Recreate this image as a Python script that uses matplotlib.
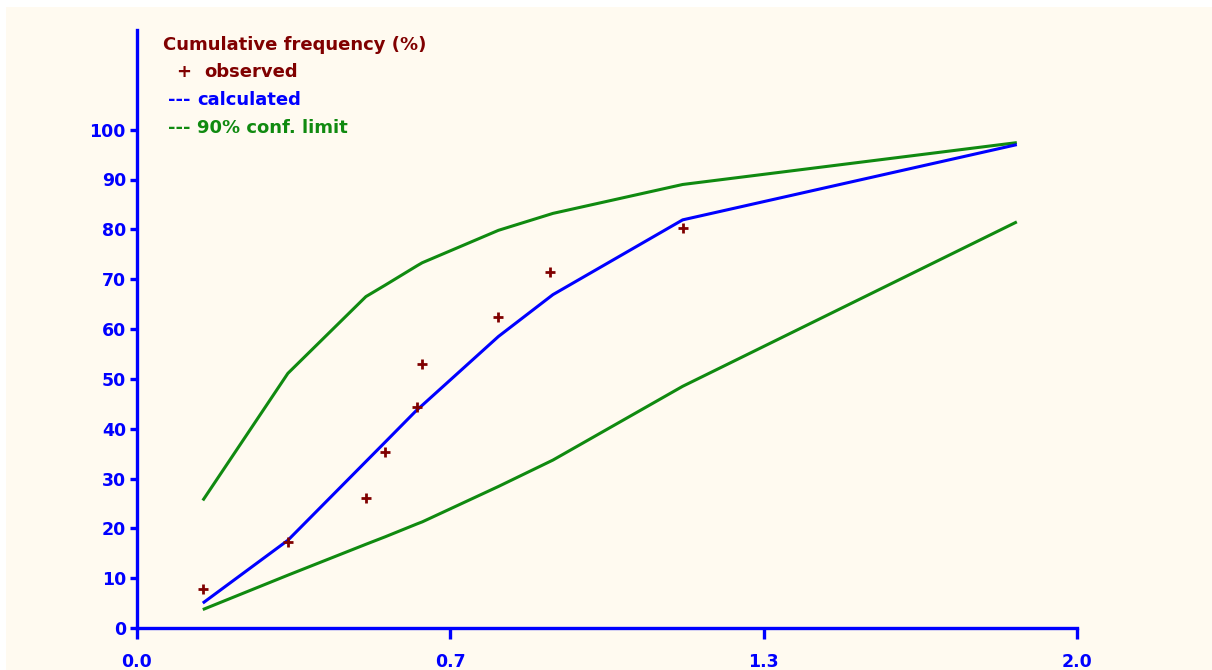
import numpy as np
import matplotlib
matplotlib.use("Agg")
import matplotlib.pyplot as plt
from matplotlib.patches import Rectangle

# ---- data ----
obs_x = [0.140, 0.321, 0.487, 0.528, 0.596, 0.607, 0.769, 0.879, 1.161]
obs_y = [7.8, 17.3, 26.1, 35.3, 44.4, 53.0, 62.5, 71.4, 80.3]

curve_x = [0.140, 0.321, 0.487, 0.528, 0.596, 0.607, 0.769, 0.885, 1.161, 1.872]
calc_y = [5.0, 17.6, 33.4, 37.3, 43.8, 44.7, 58.5, 66.9, 81.9, 97.0]
upper_y = [25.6, 51.1, 66.5, 68.8, 72.7, 73.3, 79.8, 83.2, 89.0, 97.4]
lower_y = [3.7, 10.6, 16.8, 18.3, 20.9, 21.3, 28.4, 33.7, 48.5, 81.5]

ytick_vals = [0, 10, 20, 30, 40, 50, 60, 70, 80, 90, 100]
xtick_labels = ["0.0", "0.7", "1.3", "2.0"]
xtick_vals = list(np.linspace(0, 2, len(xtick_labels)))

legend_title = "Cumulative frequency (%)"
legend_marks = ["+", "---", "---"]
legend_items = ["observed", "calculated", "90% conf. limit"]

# ---- style ----
BG = "#fffaf0"
BLUE = "#0000ff"
GREEN = "#108a10"
RED = "#800000"

W, H = 1212, 670
fig = plt.figure(figsize=(W / 100, H / 100), dpi=100, facecolor="white")
fig.patches.append(Rectangle((6 / W, 0), 1 - 6 / W, 1 - 7 / H, transform=fig.transFigure,
                             facecolor=BG, edgecolor="none", zorder=-10))

ax = fig.add_axes([137 / W, 42 / H, (1077 - 137) / W, (628 - 30) / H])
ax.set_facecolor("none")
ax.set_xlim(0, 2)
ax.set_ylim(0, 120)

for s in ["top", "right"]:
    ax.spines[s].set_visible(False)
for s in ["left", "bottom"]:
    ax.spines[s].set_color(BLUE)
    ax.spines[s].set_linewidth(2.4)

ax.plot(curve_x, upper_y, color=GREEN, lw=2.2, solid_capstyle="butt", zorder=3)
ax.plot(curve_x, lower_y, color=GREEN, lw=2.2, solid_capstyle="butt", zorder=3)
ax.plot(curve_x, calc_y, color=BLUE, lw=2.2, solid_capstyle="butt", zorder=4)
ax.plot(obs_x, obs_y, linestyle="none", marker="+", color=RED, ms=7, mew=2.0, zorder=5)

ax.set_yticks(ytick_vals)
ax.set_yticklabels([str(v) for v in ytick_vals])
ax.set_xticks(xtick_vals)
ax.set_xticklabels(xtick_labels)
ax.tick_params(axis="y", colors=BLUE, length=5, width=2.4, direction="out", pad=3,
               labelsize=12.5)
ax.tick_params(axis="x", colors=BLUE, length=8, width=2.4, direction="out", pad=10,
               labelsize=12.5)
for lab in ax.get_xticklabels() + ax.get_yticklabels():
    lab.set_fontweight("bold")

# legend-like text block
FS = 13
fig.text(163 / W, 1 - 45 / H, legend_title, color=RED, fontsize=FS, fontweight="bold",
         va="center", ha="left")
fig.text(176 / W, 1 - 72 / H, legend_marks[0], color=RED, fontsize=FS, fontweight="bold",
         va="center", ha="left")
fig.text(204 / W, 1 - 72 / H, legend_items[0], color=RED, fontsize=FS, fontweight="bold",
         va="center", ha="left")
fig.text(168 / W, 1 - 100 / H, legend_marks[1], color=BLUE, fontsize=FS, fontweight="bold",
         va="center", ha="left")
fig.text(197 / W, 1 - 100 / H, legend_items[1], color=BLUE, fontsize=FS, fontweight="bold",
         va="center", ha="left")
fig.text(168 / W, 1 - 128 / H, legend_marks[2], color=GREEN, fontsize=FS, fontweight="bold",
         va="center", ha="left")
fig.text(197 / W, 1 - 128 / H, legend_items[2], color=GREEN, fontsize=FS, fontweight="bold",
         va="center", ha="left")

fig.savefig("out.png", dpi=100, facecolor="white")
